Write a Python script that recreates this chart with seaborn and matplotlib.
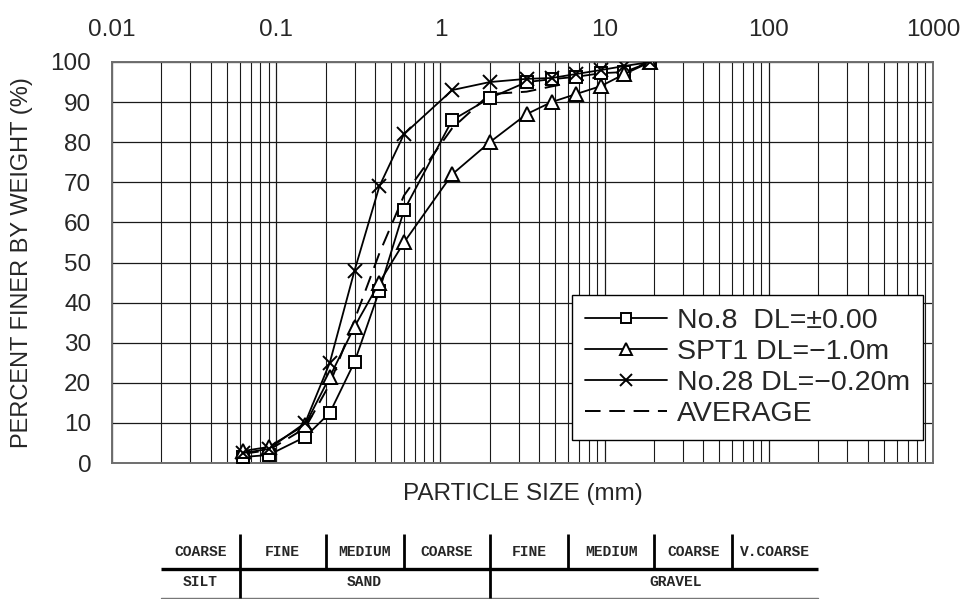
import numpy as np
import pandas as pd
import matplotlib
matplotlib.use("Agg")
import matplotlib.pyplot as plt
from matplotlib.ticker import FixedLocator, NullFormatter, LogLocator
import seaborn as sns

# ---------------- data ----------------
sizes = [0.063, 0.09, 0.15, 0.212, 0.3, 0.425, 0.6, 1.18, 2.0, 3.35, 4.75, 6.7, 9.5, 13.2, 19.0]
no8 = [1.5, 2.0, 6.5, 12.5, 25.2, 43.0, 63.0, 85.5, 91.0, 95.0, 95.7, 96.3, 97.2, 97.5, 100.0]
spt1 = [3.0, 4.0, 9.5, 21.5, 34.0, 45.0, 55.0, 72.0, 80.0, 87.0, 90.0, 92.0, 94.0, 97.0, 100.0]
no28 = [2.5, 3.5, 10.0, 25.0, 48.0, 69.0, 82.0, 93.0, 95.0, 95.8, 96.0, 97.0, 98.0, 99.0, 100.0]
average = [2.3, 3.2, 8.7, 19.7, 35.7, 52.3, 66.7, 83.5, 92.0, 92.6, 93.9, 95.1, 96.4, 97.8, 100.0]

labels = ["No.8  DL=±0.00", "SPT1 DL=\u22121.0m", "No.28 DL=\u22120.20m", "AVERAGE"]
x_ticks = [0.01, 0.1, 1, 10, 100, 1000]
x_tick_labels = ["0.01", "0.1", "1", "10", "100", "1000"]
y_ticks = [0, 10, 20, 30, 40, 50, 60, 70, 80, 90, 100]

# classification table
class_bounds = [0.02, 0.06, 0.2, 0.6, 2, 6, 20, 60, 200]
sub_labels = ["COARSE", "FINE", "MEDIUM", "COARSE", "FINE", "MEDIUM", "COARSE", "V.COARSE"]
main_bounds = [0.06, 2]
main_labels = ["SILT", "SAND", "GRAVEL"]
main_label_pos = [0.0346, 0.346, 27.0]

# ---------------- style ----------------
sns.set_style("white")
plt.rcParams["font.family"] = ["Liberation Sans", "Noto Sans CJK JP", "DejaVu Sans"]

W, H = 962, 599
fig = plt.figure(figsize=(W / 100, H / 100), dpi=100)
L, R, T, B = 112, 933, 62, 463
ax = fig.add_axes([L / W, 1 - B / H, (R - L) / W, (B - T) / H])
ax.set_xscale("log")

df = pd.DataFrame({"size": sizes, "no8": no8, "spt1": spt1, "no28": no28, "avg": average})

common = dict(color="black", linewidth=1.3, markerfacecolor="white",
              markeredgecolor="black", markeredgewidth=1.4, ax=ax, zorder=5)
sns.lineplot(data=df, x="size", y="no8", marker="s", markersize=8.5, label=labels[0], **common)
sns.lineplot(data=df, x="size", y="spt1", marker="^", markersize=10.5, label=labels[1], **common)
sns.lineplot(data=df, x="size", y="no28", marker="x", markersize=10.5, label=labels[2], **common)
sns.lineplot(data=df, x="size", y="avg", linestyle=(0, (8, 4.5)), label=labels[3],
             color="black", linewidth=1.4, ax=ax, zorder=4)

ax.set_xlim(0.01, 1000)
ax.set_ylim(0, 100)

# grids
ax.xaxis.set_major_locator(FixedLocator(x_ticks))
ax.xaxis.set_minor_locator(LogLocator(base=10, subs=np.arange(2, 10), numticks=50))
ax.xaxis.set_minor_formatter(NullFormatter())
ax.set_xticklabels(x_tick_labels)
ax.set_yticks(y_ticks)
ax.grid(True, which="major", axis="both", color="#1a1a1a", linewidth=0.9, zorder=0)
ax.grid(True, which="minor", axis="x", color="#1a1a1a", linewidth=0.8, zorder=0)
ax.set_axisbelow(True)

ax.xaxis.tick_top()
ax.tick_params(axis="x", which="both", length=0, pad=15, labelsize=17.5, top=True, bottom=False)
ax.tick_params(axis="y", which="both", length=0, pad=15, labelsize=17.5)
for s in ax.spines.values():
    s.set_color("#6e6e6e")
    s.set_linewidth(1.4)

ax.set_ylabel("PERCENT FINER BY WEIGHT (%)", fontsize=17)
ax.yaxis.set_label_coords(-0.096, 0.5)
ax.set_xlabel("PARTICLE SIZE (mm)", fontsize=17.5)
ax.xaxis.set_label_position("bottom")
ax.xaxis.set_label_coords(0.5, -0.050)
ax.xaxis.label.set_verticalalignment("top")

# legend
handles, labs = ax.get_legend_handles_labels()
leg = ax.legend(handles, labs, loc="lower left",
                bbox_to_anchor=(572 / W, 1 - 440 / H), bbox_transform=fig.transFigure,
                fontsize=20.5, frameon=True, fancybox=False, shadow=False,
                handlelength=2.9, handletextpad=0.35, labelspacing=0.18,
                borderpad=0.45, borderaxespad=0, markerscale=0.85)
leg.get_frame().set_edgecolor("black")
leg.get_frame().set_linewidth(1.0)
leg.get_frame().set_alpha(1)
leg.set_zorder(10)

# ---------------- classification table ----------------
tb_top, tb_bot = 531, 599
tax = fig.add_axes([L / W, 1 - tb_bot / H, (R - L) / W, (tb_bot - tb_top) / H])
tax.set_xscale("log")
tax.set_xlim(0.01, 1000)
tax.set_ylim(0, 1)
tax.axis("off")
mid = (tb_bot - 569) / (tb_bot - tb_top)
low = (tb_bot - 598) / (tb_bot - tb_top)
tax.plot([class_bounds[0], class_bounds[-1]], [mid, mid], color="black", lw=2.4,
         solid_capstyle="butt")
tax.plot([class_bounds[0], class_bounds[-1]], [low, low], color="#777777", lw=1.0)
for b in class_bounds[1:-1]:
    tax.plot([b, b], [mid, 0.95], color="black", lw=2.0, solid_capstyle="butt")
for b in main_bounds:
    tax.plot([b, b], [low, mid], color="black", lw=2.0, solid_capstyle="butt")
tfont = dict(family=["Liberation Mono", "DejaVu Sans Mono"], fontweight="bold", fontsize=10.5)
for i, lab in enumerate(sub_labels):
    xc = np.sqrt(class_bounds[i] * class_bounds[i + 1])
    tax.text(xc, 0.69, lab, ha="center", va="center", **tfont)
for lab, xc in zip(main_labels, main_label_pos):
    tax.text(xc, 0.245, lab, ha="center", va="center", **tfont)

fig.savefig("out.png", dpi=100)
